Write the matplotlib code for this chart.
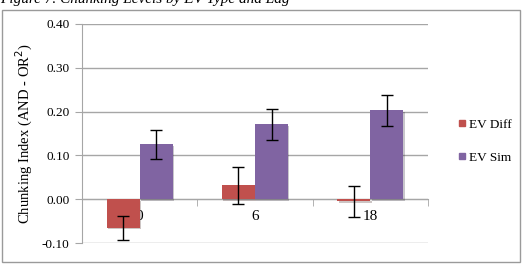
import numpy as np
import matplotlib.pyplot as plt
from matplotlib.patches import Rectangle
from matplotlib.lines import Line2D
import matplotlib.patheffects as pe

plt.rcParams['font.family'] = ['Liberation Serif', 'DejaVu Serif']

# data
lags = ["0", "6", "18"]
ev_diff = [-0.066, 0.032, -0.005]
ev_diff_err = [0.028, 0.042, 0.036]
ev_sim = [0.125, 0.171, 0.203]
ev_sim_err = [0.033, 0.035, 0.036]

red = "#C0504D"
purple = "#8064A2"
grid_col = "#A6A6A6"

fig = plt.figure(figsize=(5.22, 2.66), dpi=100)
ax = fig.add_axes([82/522, 1 - 243/266, (428 - 82)/522, (243 - 24)/266])

x = np.arange(len(lags))
w = 0.287
shadow = [pe.SimplePatchShadow(offset=(1, -1), alpha=0.25), pe.Normal()]
b1 = ax.bar(x - w/2, ev_diff, w, color=red, label="EV Diff", zorder=3)
b2 = ax.bar(x + w/2, ev_sim, w, color=purple, label="EV Sim", zorder=3)
for b in list(b1) + list(b2):
    b.set_path_effects(shadow)
ax.errorbar(x - w/2, ev_diff, yerr=ev_diff_err, fmt="none", ecolor="black",
            elinewidth=1, capsize=4.5, capthick=1, zorder=4)
ax.errorbar(x + w/2, ev_sim, yerr=ev_sim_err, fmt="none", ecolor="black",
            elinewidth=1, capsize=4.5, capthick=1, zorder=4)

ax.set_xlim(-0.5, len(lags) - 0.5)
ax.set_ylim(-0.1, 0.4)
ax.set_yticks(np.arange(-0.1, 0.41, 0.1))
ax.set_yticklabels([f"{v:.2f}" for v in np.arange(-0.1, 0.41, 0.1)], fontsize=9.5)
ax.yaxis.grid(True, color=grid_col, linewidth=1)
ax.set_axisbelow(True)

for s in ["top", "right"]:
    ax.spines[s].set_visible(False)
ax.spines["left"].set_color(grid_col)
ax.spines["bottom"].set_position(("data", 0))
ax.spines["bottom"].set_color(grid_col)
ax.spines["bottom"].set_zorder(2)
ax.tick_params(axis="y", color=grid_col, length=5, pad=4)

ax.set_xticks(x)
ax.set_xticklabels(lags, fontsize=11)
ax.set_xticks(np.arange(-0.5, len(lags), 1), minor=True)
ax.tick_params(axis="x", which="major", length=0, pad=8)
ax.tick_params(axis="x", which="minor", length=5, color=grid_col)

ax.set_ylabel("Chunking Index (AND - OR$^2$)", fontsize=10.5, labelpad=5)

# legend with small square keys
handles = [Line2D([], [], marker="s", linestyle="none", markersize=5,
                  markerfacecolor=c, markeredgecolor=c, label=l)
           for c, l in [(red, "EV Diff"), (purple, "EV Sim")]]
fig.legend(handles=handles, loc="upper left", bbox_to_anchor=(451/522, 1 - 112/266),
           frameon=False, fontsize=9.5, handlelength=0.6, handletextpad=0.3,
           labelspacing=1.55, borderpad=0)

# outer chart border
fig.patches.append(Rectangle((2/522, 4/266), 518/522, 252/266, transform=fig.transFigure,
                             fill=False, edgecolor="#9A9A9A", linewidth=1))

# title partly cut off at the top, as in the source
fig.text(0.0, 1 - 3/266, "Figure 7. Chunking Levels by EV Type and Lag",
         style="italic", fontsize=11, va="baseline", ha="left")

fig.savefig("out.png", dpi=100)
